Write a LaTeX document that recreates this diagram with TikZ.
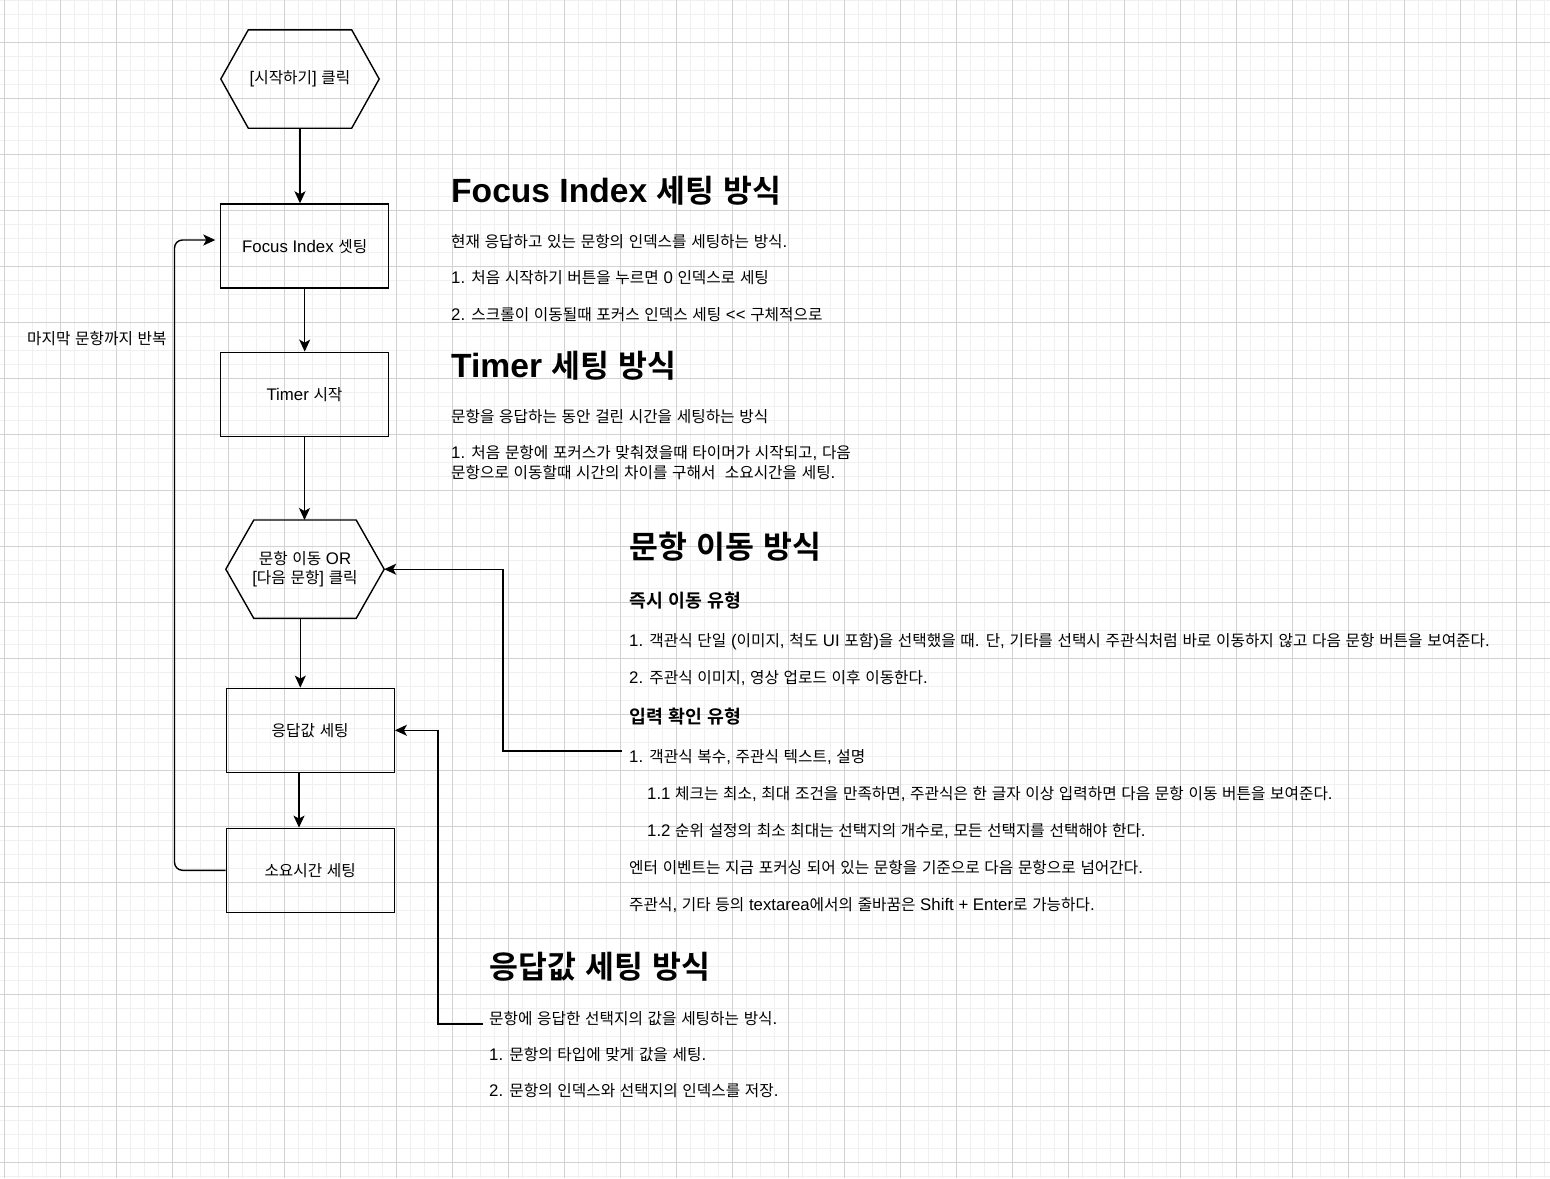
\documentclass[tikz,border=0pt]{standalone}
\usepackage{fontspec}
\setmainfont{Liberation Sans}
\newfontfamily\krfont{Noto Sans CJK KR}[Scale=0.935,BoldFont={Noto Sans CJK KR Bold}]
\usepackage{tikz}
\usetikzlibrary{arrows.meta}

\definecolor{gridmin}{HTML}{F0F0F0}
\definecolor{gridmaj}{HTML}{D2D2D2}

\XeTeXinterchartokenstate=1
\newXeTeXintercharclass\hangulclass
\count255="AC00
\loop \XeTeXcharclass\count255=\hangulclass \ifnum\count255<"D7A3 \advance\count255 by 1 \repeat
\XeTeXinterchartoks 0 \hangulclass = {\begingroup\krfont}
\XeTeXinterchartoks 4095 \hangulclass = {\begingroup\krfont}
\XeTeXinterchartoks \hangulclass 0 = {\endgroup}
\XeTeXinterchartoks \hangulclass 4095 = {\endgroup}

\begin{document}
\begin{tikzpicture}[x=1pt,y=-1pt,
    procbox/.style={rectangle,draw,line width=1.4,minimum width=168,minimum height=84,inner sep=0,
      font=\fontsize{16.8}{20}\selectfont,text height=12,text depth=0},
    hexnode/.style={rectangle,minimum width=158,minimum height=98,inner sep=0,align=center,
      font=\fontsize{16.8}{19}\selectfont},
    hexline/.style={line width=1.4,line join=miter},
    bodytext/.style={anchor=west,inner sep=0,font=\fontsize{16.8}{20}\selectfont,text height=12,text depth=0},
    headtext/.style={bodytext,font=\fontsize{33.6}{40}\selectfont\bfseries,text height=24},
    subtext/.style={bodytext,font=\fontsize{19.6}{24}\selectfont\bfseries,text height=14},
    arrowline/.style={line width=1.4,-{Stealth[length=12pt,width=11pt,inset=3pt]}},
    gridminor/.style={draw=gridmin,line width=1},
    gridmajor/.style={draw=gridmaj,line width=1}]

    \useasboundingbox[fill=white] (0,0) rectangle (1550,1178);
    \foreach \gx in {4.5,18.5,...,1550} \draw[gridminor] (\gx,0) -- (\gx,1178);
    \foreach \gy in {0.5,14.5,...,1178} \draw[gridminor] (0,\gy) -- (1550,\gy);
    \foreach \gx in {4.5,60.5,...,1550} \draw[gridmajor] (\gx,0) -- (\gx,1178);
    \foreach \gy in {42.5,98.5,...,1178} \draw[gridmajor] (0,\gy) -- (1550,\gy);

    \node at (300,79) [hexnode] (start) {[시작하기] 클릭};
    \draw[hexline] (start.west) -- ([xshift=27.5]start.north west) -- ([xshift=-27.5]start.north east)
      -- (start.east) -- ([xshift=-27.5]start.south east) -- ([xshift=27.5]start.south west) -- cycle;

    \node at (304.7,246) [procbox] (focus) {Focus Index 셋팅};
    \node at (304.5,394.3) [procbox] (timer) {Timer 시작};

    \node at (305,569.2) [hexnode] (move) {문항 이동 OR\\{}[다음 문항] 클릭};
    \draw[hexline] (move.west) -- ([xshift=28]move.north west) -- ([xshift=-28]move.north east)
      -- (move.east) -- ([xshift=-28]move.south east) -- ([xshift=28]move.south west) -- cycle;

    \node at (310.2,730.3) [procbox] (answer) {응답값 세팅};
    \node at (310.2,870.3) [procbox] (spent) {소요시간 세팅};

    \draw[arrowline] (start.south) -- (start.south |- focus.north);
    \draw[arrowline] (focus.south) -- (focus.south |- timer.north);
    \draw[arrowline] (timer.south) -- (timer.south |- move.north);
    \draw[arrowline] ([xshift=-4.7]move.south) -- ([xshift=-4.7]move.south |- answer.north);
    \draw[arrowline] ([xshift=-11.2]answer.south) -- ([xshift=-11.2]answer.south |- spent.north);

    \coordinate (loopend) at ([xshift=-4.7,yshift=6]focus.west);
    \draw[arrowline,rounded corners=8] (spent.west) -- ([xshift=-51]spent.west) |- (loopend);
    \node at (27,338) [bodytext] (looplabel) {마지막 문항까지 반복};

    \node at (451,190) [headtext] (fihead) {Focus Index 세팅 방식};
    \node at ([yshift=-51]fihead.west) [bodytext] (fi1) {현재 응답하고 있는 문항의 인덱스를 세팅하는 방식.};
    \node at ([yshift=-36]fi1.west) [bodytext] (fi2) {1. 처음 시작하기 버튼을 누르면 0 인덱스로 세팅};
    \node at ([yshift=-37]fi2.west) [bodytext] (fi3) {2. 스크롤이 이동될때 포커스 인덱스 세팅 <{}< 구체적으로};

    \node at (451,365) [headtext] (tmhead) {Timer 세팅 방식};
    \node at ([yshift=-51]tmhead.west) [bodytext] (tm1) {문항을 응답하는 동안 걸린 시간을 세팅하는 방식};
    \node at ([yshift=-36]tm1.west) [bodytext] (tm2) {1. 처음 문항에 포커스가 맞춰졌을때 타이머가 시작되고, 다음};
    \node at ([yshift=-20]tm2.west) [bodytext] (tm3) {문항으로 이동할때 시간의 차이를 구해서\ \ 소요시간을 세팅.};

    \node at (629,546) [headtext] (mvhead) {문항 이동 방식};
    \node at ([yshift=-54]mvhead.west) [subtext] (mvsub1) {즉시 이동 유형};
    \node at ([yshift=-40]mvsub1.west) [bodytext] (mv1) {1. 객관식 단일 (이미지, 척도 UI 포함)을 선택했을 때. 단, 기타를 선택시 주관식처럼 바로 이동하지 않고 다음 문항 버튼을 보여준다.};
    \node at ([yshift=-37]mv1.west) [bodytext] (mv2) {2. 주관식 이미지, 영상 업로드 이후 이동한다.};
    \node at ([yshift=-39]mv2.west) [subtext] (mvsub2) {입력 확인 유형};
    \node at ([yshift=-40]mvsub2.west) [bodytext] (mv3) {1. 객관식 복수, 주관식 텍스트, 설명};
    \node at ([xshift=18,yshift=-37]mv3.west) [bodytext] (mv31) {1.1 체크는 최소, 최대 조건을 만족하면, 주관식은 한 글자 이상 입력하면 다음 문항 이동 버튼을 보여준다.};
    \node at ([yshift=-37]mv31.west) [bodytext] (mv32) {1.2 순위 설정의 최소 최대는 선택지의 개수로, 모든 선택지를 선택해야 한다.};
    \node at ([xshift=-18,yshift=-37]mv32.west) [bodytext] (mv4) {엔터 이벤트는 지금 포커싱 되어 있는 문항을 기준으로 다음 문항으로 넘어간다.};
    \node at ([yshift=-37]mv4.west) [bodytext] (mv5) {주관식, 기타 등의 textarea에서의 줄바꿈은 Shift + Enter로 가능하다.};

    \node at (489,966) [headtext] (anhead) {응답값 세팅 방식};
    \node at ([yshift=-52]anhead.west) [bodytext] (an1) {문항에 응답한 선택지의 값을 세팅하는 방식.};
    \node at ([yshift=-36]an1.west) [bodytext] (an2) {1. 문항의 타입에 맞게 값을 세팅.};
    \node at ([yshift=-36]an2.west) [bodytext] (an3) {2. 문항의 인덱스와 선택지의 인덱스를 저장.};

    \draw[arrowline] ([xshift=-7,yshift=5]mv3.west) -- ++(-119,0) |- (move.east);
    \draw[arrowline] ([xshift=-6,yshift=-6]an1.west) -- ++(-45,0) |- (answer.east);
\end{tikzpicture}
\end{document}
